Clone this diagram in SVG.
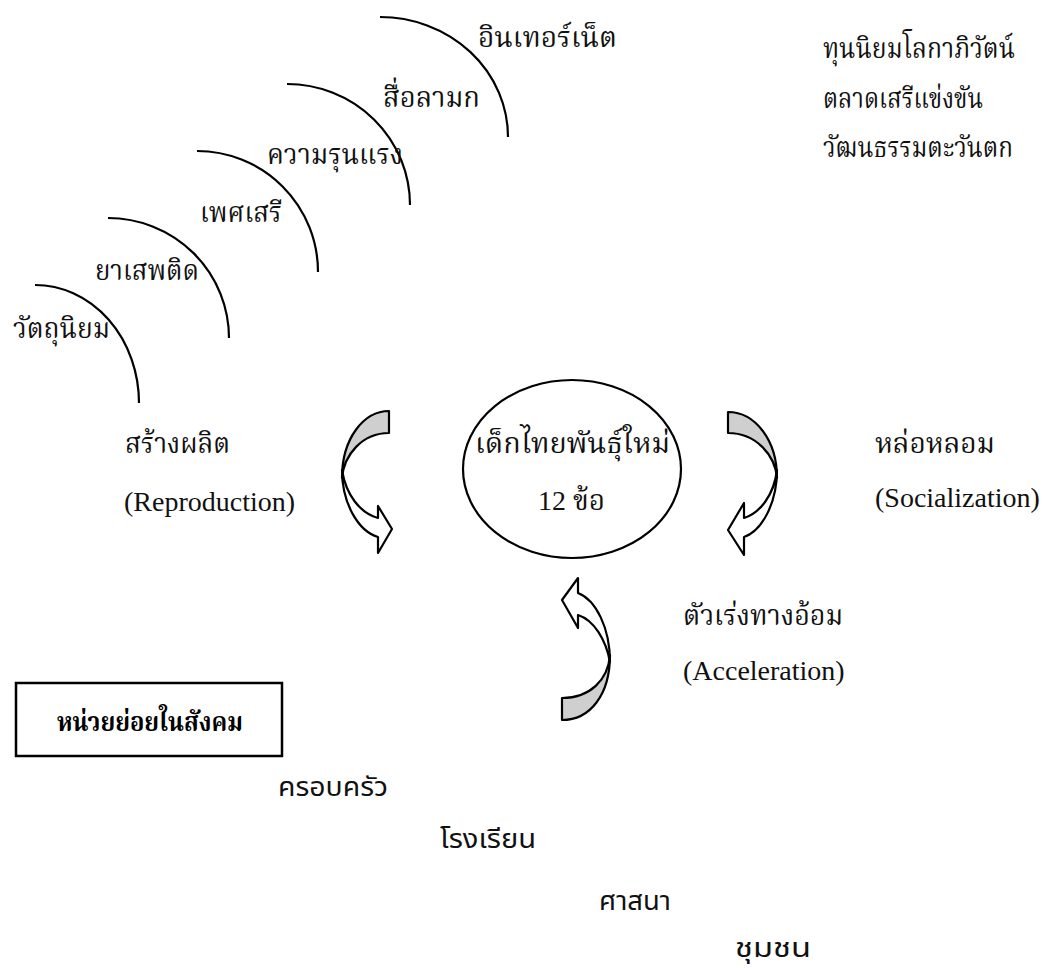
<svg xmlns="http://www.w3.org/2000/svg" width="1043" height="968" viewBox="0 0 1043 968">
<style>
.bg{fill:#fff}
.arc{fill:none;stroke:#000;stroke-width:2.2}
.th{font-family:"Liberation Serif","Kinnari","Norasi","Noto Serif Thai","Noto Sans Thai Looped","Noto Sans Thai",serif;font-size:28px;fill:#111}
.en{font-family:"Liberation Serif","Times New Roman",serif;font-size:28px;fill:#111}
.ths{font-family:"Noto Sans Thai","Loma","Garuda","Noto Sans","Liberation Sans",sans-serif;font-size:26px;fill:#111}
.thb{font-family:"Liberation Serif","Kinnari","Norasi","Noto Serif Thai","Noto Sans Thai",serif;font-size:26px;font-weight:bold;fill:#000}
.ol{stroke:#000;stroke-width:2.2;stroke-linejoin:round}
.gray{fill:#cfcfcf}
.white{fill:#fff}
</style>
<rect class="bg" x="0" y="0" width="1043" height="968"/>

<g id="arcs">
  <path class="arc" d="M35,285 A104,118 0 0 1 139,403"/>
  <path class="arc" d="M108,218 A121,120 0 0 1 229,338"/>
  <path class="arc" d="M197,151 A121,121 0 0 1 318,272"/>
  <path class="arc" d="M287,84 A123,121 0 0 1 410,205"/>
  <path class="arc" d="M380,17 A128,120 0 0 1 508,137"/>
</g>

<g id="arc-labels">
  <text class="th" x="478" y="47" textLength="139" lengthAdjust="spacingAndGlyphs">อินเทอร์เน็ต</text>
  <text class="th" x="383" y="107" textLength="97" lengthAdjust="spacingAndGlyphs">สื่อลามก</text>
  <text class="th" x="267" y="164" textLength="136" lengthAdjust="spacingAndGlyphs">ความรุนแรง</text>
  <text class="th" x="200" y="222" textLength="82" lengthAdjust="spacingAndGlyphs">เพศเสรี</text>
  <text class="th" x="95" y="280" textLength="104" lengthAdjust="spacingAndGlyphs">ยาเสพติด</text>
  <text class="th" x="13" y="338" textLength="97" lengthAdjust="spacingAndGlyphs">วัตถุนิยม</text>
</g>

<g id="context">
  <text class="th" x="823" y="58" textLength="192" lengthAdjust="spacingAndGlyphs">ทุนนิยมโลกาภิวัตน์</text>
  <text class="th" x="823" y="108" textLength="160" lengthAdjust="spacingAndGlyphs">ตลาดเสรีแข่งขัน</text>
  <text class="th" x="823" y="157" textLength="190" lengthAdjust="spacingAndGlyphs">วัฒนธรรมตะวันตก</text>
</g>

<g id="center">
  <ellipse cx="572" cy="469" rx="109" ry="89" fill="#fff" stroke="#000" stroke-width="2.2"/>
  <text class="th" x="475" y="453" textLength="195" lengthAdjust="spacingAndGlyphs">เด็กไทยพันธุ์ใหม่</text>
  <text class="th" x="538" y="510" textLength="67" lengthAdjust="spacingAndGlyphs">12 ข้อ</text>
</g>

<g id="reproduction">
  <text class="th" x="125" y="453" textLength="105" lengthAdjust="spacingAndGlyphs">สร้างผลิต</text>
  <text class="en" x="124" y="511">(Reproduction)</text>
</g>

<g id="socialization">
  <text class="th" x="875" y="453" textLength="120" lengthAdjust="spacingAndGlyphs">หล่อหลอม</text>
  <text class="en" x="875" y="507">(Socialization)</text>
</g>

<g id="acceleration">
  <text class="th" x="683" y="625" textLength="160" lengthAdjust="spacingAndGlyphs">ตัวเร่งทางอ้อม</text>
  <text class="en" x="683" y="680">(Acceleration)</text>
</g>

<g id="connectors">
  <g id="arrow-left">
    <path class="ol white" d="M342,470 C342,503 358,531 378,537 L378,553 L392,529 L378,506 L378,518 C360,513 346,495 342,470 Z"/>
    <path class="ol gray" d="M389,411 C364,411 342,438 342,478 C344,455 362,433 389,433 Z"/>
  </g>
  <g id="arrow-right">
    <path class="ol white" d="M777,470 C777,503 762,531 744,537 L744,555 L728,530 L744,503 L744,518 C760,513 774,495 777,470 Z"/>
    <path class="ol gray" d="M728,412 C755,412 777,440 777,478 C775,455 756,433 728,433 Z"/>
  </g>
  <g id="arrow-bottom">
    <path class="ol white" d="M610,662 C610,628 596,600 578,593 L578,578 L562,600 L578,628 L578,615 C594,620 606,640 610,662 Z"/>
    <path class="ol gray" d="M562,720 C590,720 610,695 610,655 C608,680 590,698 562,698 Z"/>
  </g>
</g>

<g id="units-box">
  <rect x="16" y="683" width="266" height="73" fill="#fff" stroke="#000" stroke-width="2.5"/>
  <text class="thb" x="57" y="731" textLength="186" lengthAdjust="spacingAndGlyphs">หน่วยย่อยในสังคม</text>
</g>

<g id="units">
  <text class="ths" x="278" y="796" textLength="110" lengthAdjust="spacingAndGlyphs">ครอบครัว</text>
  <text class="ths" x="440" y="848" textLength="96" lengthAdjust="spacingAndGlyphs">โรงเรียน</text>
  <text class="ths" x="599" y="910" textLength="72" lengthAdjust="spacingAndGlyphs">ศาสนา</text>
  <text class="ths" x="735" y="957" textLength="76" lengthAdjust="spacingAndGlyphs">ชุมชน</text>
</g>
</svg>
